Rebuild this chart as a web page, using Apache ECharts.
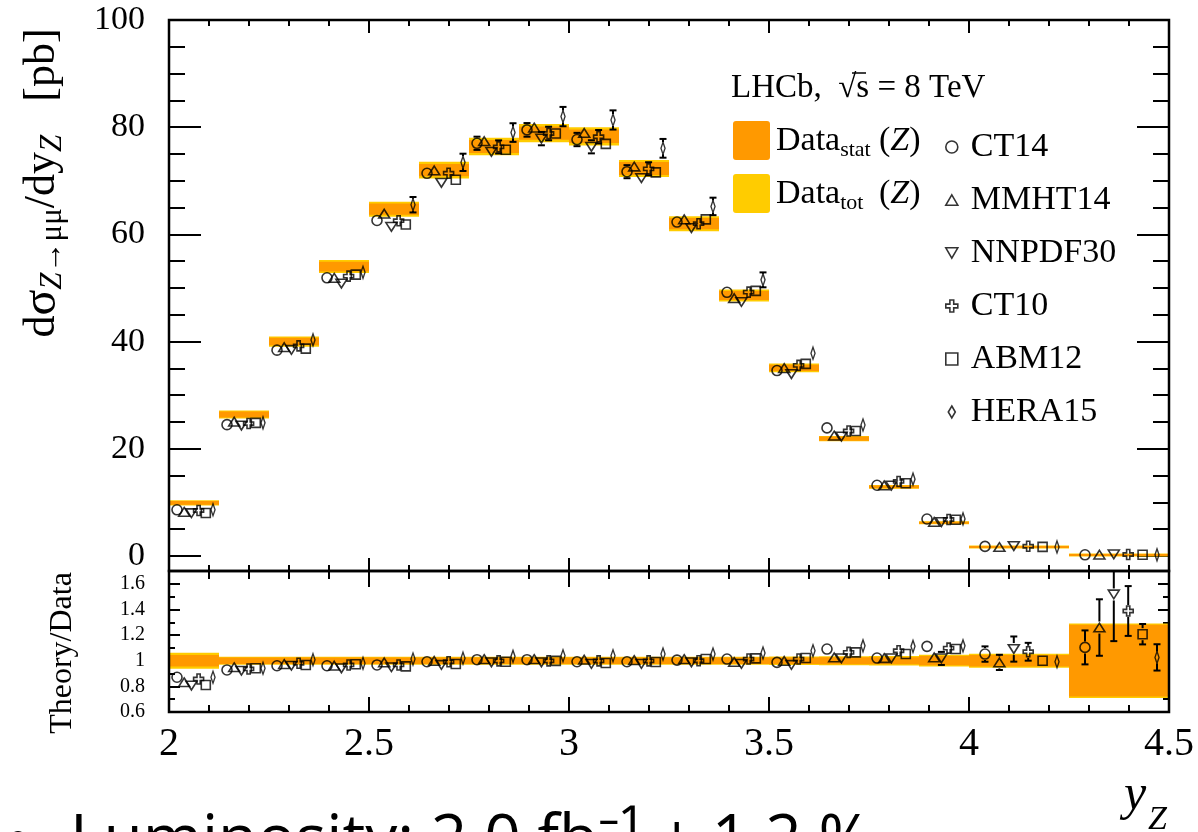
<!DOCTYPE html>
<html><head><meta charset="utf-8">
<script src="https://cdn.jsdelivr.net/npm/echarts@6/dist/echarts.min.js"></script>
<style>html,body{margin:0;padding:0;background:#fff;overflow:hidden}#c{width:1198px;height:832px}</style>
</head><body><div id="c"></div>
<script>
const FONT = "'Liberation Serif', 'Times New Roman', serif";
const SANS = "'Open Sans', 'Noto Sans', sans-serif";

// ---- data ----
const binEdges = [2.0,2.125,2.25,2.375,2.5,2.625,2.75,2.875,3.0,3.125,3.25,3.375,3.5,3.625,3.75,3.875,4.0,4.25,4.5];
const dataVal  = [9.9,26.4,40.0,54.0,64.7,72.0,76.4,78.9,78.3,72.3,62.0,48.6,35.1,21.9,12.9,6.2,1.70,0.20];
const dataStat = [0.35,0.55,0.7,0.9,1.05,1.15,1.2,1.25,1.25,1.2,1.05,0.85,0.6,0.38,0.26,0.17,0.08,0.055];
const dataTot  = [0.5,0.75,0.95,1.2,1.4,1.55,1.65,1.7,1.7,1.6,1.4,1.1,0.8,0.5,0.35,0.22,0.1,0.06];
const ratioStat = [0.045,0.025,0.025,0.025,0.025,0.025,0.025,0.025,0.025,0.025,0.025,0.025,0.025,0.027,0.028,0.036,0.045,0.28];
const ratioTot  = [0.062,0.032,0.032,0.032,0.032,0.032,0.032,0.032,0.032,0.032,0.032,0.032,0.033,0.035,0.037,0.046,0.055,0.29];

const ct14      = [8.62,24.5,38.4,51.9,62.6,71.4,77.0,79.5,77.7,71.7,62.3,49.2,34.6,23.9,13.2,6.9,1.79,0.22];
const mmht14    = [8.24,25.05,38.96,51.9,63.86,71.93,77.39,79.93,78.93,72.66,62.81,48.11,35.06,22.47,13.17,6.36,1.68,0.25];
const nnpdf30   = [7.98,24.34,38.44,50.81,61.4,69.62,75.41,77.87,76.34,70.49,61.19,47.39,33.94,22.29,13.13,6.31,1.85,0.30];
const ct10      = [8.49,24.71,39.2,52.22,62.56,71.42,76.32,78.82,78.22,72.23,62.0,49.23,35.56,23.32,13.91,6.81,1.82,0.28];
const abm12     = [8.03,24.84,38.68,52.49,61.85,70.2,75.79,78.82,76.89,71.58,62.81,49.47,35.84,23.32,13.57,6.76,1.70,0.24];
const hera15    = [8.62,24.84,40.32,52.92,65.54,73.44,79.0,81.98,81.35,76.06,65.22,51.52,37.84,24.44,14.34,6.92,1.69,0.21];

const ct14Ratio    = [0.871,0.928,0.961,0.961,0.967,0.992,1.008,1.008,0.992,0.992,1.005,1.013,0.987,1.091,1.021,1.112,1.052,1.104];
const mmht14Ratio  = [0.832,0.949,0.974,0.961,0.987,0.999,1.013,1.013,1.008,1.005,1.013,0.99,0.999,1.026,1.021,1.026,0.987,1.259];
const nnpdf30Ratio = [0.806,0.922,0.961,0.941,0.949,0.967,0.987,0.987,0.975,0.975,0.987,0.975,0.967,1.018,1.018,1.018,1.091,1.517];
const ct10Ratio    = [0.858,0.936,0.98,0.967,0.967,0.992,0.999,0.999,0.999,0.999,1.0,1.013,1.013,1.065,1.078,1.098,1.07,1.388];
const abm12Ratio   = [0.811,0.941,0.967,0.972,0.956,0.975,0.992,0.999,0.982,0.99,1.013,1.018,1.021,1.065,1.052,1.091,1.0,1.207];
const hera15Ratio  = [0.871,0.941,1.008,0.98,1.013,1.02,1.034,1.039,1.039,1.052,1.052,1.06,1.078,1.116,1.112,1.116,0.992,1.026];

const ct14RelErr    = [0.025,0.02,0.018,0.017,0.016,0.016,0.016,0.016,0.016,0.017,0.018,0.019,0.02,0.022,0.025,0.035,0.057,0.12];
const mmht14RelErr  = [0.02,0.016,0.014,0.013,0.013,0.013,0.013,0.013,0.013,0.014,0.015,0.016,0.017,0.02,0.025,0.035,0.06,0.175];
const nnpdf30RelErr = [0.025,0.02,0.018,0.017,0.016,0.016,0.016,0.016,0.016,0.017,0.019,0.021,0.024,0.028,0.035,0.05,0.09,0.24];
const ct10RelErr    = [0.025,0.02,0.018,0.017,0.016,0.016,0.016,0.016,0.016,0.017,0.018,0.019,0.021,0.024,0.03,0.045,0.065,0.14];
const abm12RelErr   = [0.012,0.01,0.01,0.01,0.01,0.01,0.01,0.01,0.01,0.01,0.011,0.012,0.013,0.015,0.018,0.022,0.02,0.066];
const hera15RelErr  = [0.03,0.025,0.022,0.022,0.022,0.022,0.022,0.022,0.022,0.023,0.025,0.027,0.03,0.033,0.035,0.045,0.05,0.1];

const xTickLabels = [2, 2.5, 3, 3.5, 4, 4.5];
const yMainTicks = [0, 20, 40, 60, 80, 100];
const yMainMinor = [5,10,15,25,30,35,45,50,55,65,70,75,85,90,95];
const ratioTicks = [0.6, 0.8, 1, 1.2, 1.4, 1.6];
const ratioMinor = [0.7, 0.9, 1.1, 1.3, 1.5];

// ---- symbols ----
const TRI_UP = 'path://M6,0L12,10.4L0,10.4Z';
const TRI_DN = 'path://M0,0L12,0L6,10.4Z';
const CROSS  = 'path://M3.4,0H6.6V3.4H10V6.6H6.6V10H3.4V6.6H0V3.4H3.4Z';
const DIAM   = 'path://M3.5,0L7,6L3.5,12L0,6Z';

const pdfs = [
  {name:'CT14',    top:ct14,    ratio:ct14Ratio,    rel:ct14RelErr,    symbol:'circle', size:10},
  {name:'MMHT14',  top:mmht14,  ratio:mmht14Ratio,  rel:mmht14RelErr,  symbol:TRI_UP,   size:[11,10]},
  {name:'NNPDF30', top:nnpdf30, ratio:nnpdf30Ratio, rel:nnpdf30RelErr, symbol:TRI_DN,   size:[11,10]},
  {name:'CT10',    top:ct10,    ratio:ct10Ratio,    rel:ct10RelErr,    symbol:CROSS,    size:10},
  {name:'ABM12',   top:abm12,   ratio:abm12Ratio,   rel:abm12RelErr,   symbol:'rect',   size:9},
  {name:'HERA15',  top:hera15,  ratio:hera15Ratio,  rel:hera15RelErr,  symbol:DIAM,     size:[7,12]}
];

const ORANGE = '#FF9900', YELLOW = '#FFCC00';

function markerX(b, i) {
  const lo = binEdges[b], hi = binEdges[b + 1];
  return lo + (hi - lo) * (0.16 + 0.144 * i);
}

function renderBox(params, api) {
  const lo = api.value(0), hi = api.value(1), v = api.value(2), st = api.value(3), tt = api.value(4);
  function rect(e, color, minH) {
    const a = api.coord([lo, v + e]), b = api.coord([hi, v - e]);
    let y0 = a[1], y1 = b[1];
    if (y1 - y0 < minH) { const m = (y0 + y1) / 2; y0 = m - minH / 2; y1 = m + minH / 2; }
    return {type:'rect', shape:{x:a[0], y:y0, width:b[0] - a[0], height:y1 - y0}, style:{fill:color}};
  }
  return {type:'group', children:[rect(tt, YELLOW, 3), rect(st, ORANGE, 2)]};
}

function renderErr(params, api) {
  const x = api.value(0), y = api.value(1), e = api.value(2);
  const p = api.coord([x, y]), t = api.coord([x, y + e]), b = api.coord([x, y - e]);
  const r = 6, cw = 3.5;
  const st = {stroke:'#000', lineWidth:2};
  const ch = [];
  if (p[1] - r > t[1] + 0.5) {
    ch.push({type:'line', shape:{x1:p[0], y1:t[1], x2:p[0], y2:p[1] - r}, style:st});
    ch.push({type:'line', shape:{x1:p[0] - cw, y1:t[1], x2:p[0] + cw, y2:t[1]}, style:st});
  }
  if (b[1] > p[1] + r + 0.5) {
    ch.push({type:'line', shape:{x1:p[0], y1:p[1] + r, x2:p[0], y2:b[1]}, style:st});
    ch.push({type:'line', shape:{x1:p[0] - cw, y1:b[1], x2:p[0] + cw, y2:b[1]}, style:st});
  }
  return {type:'group', children:ch};
}

// ---- axes ----
function xAx(grid, pos, major, minor, showLabel) {
  return {type:'value', gridIndex:grid, position:pos, min:2, max:4.5, interval:0.5,
    axisLine:{show:false, onZero:false}, splitLine:{show:false},
    axisTick:{show:true, inside:true, length:major, lineStyle:{color:'#000', width:2}},
    minorTick:{show:true, splitNumber:5, length:minor, lineStyle:{color:'#000', width:2}},
    axisLabel: showLabel ? {show:true, fontSize:40, fontFamily:FONT, color:'#000', margin:12,
      customValues: xTickLabels} : {show:false}
  };
}
function yAx(grid, pos, min, max, ticks, len, labels, labelSize, margin) {
  return {type:'value', gridIndex:grid, position:pos, min:min, max:max,
    axisLine:{show:false, onZero:false}, splitLine:{show:false},
    axisTick:{show:true, inside:true, length:len, customValues:ticks, lineStyle:{color:'#000', width:2}},
    axisLabel: labels ? {show:true, customValues:labels, fontSize:labelSize, fontFamily:FONT, color:'#000', margin:margin} : {show:false}
  };
}

const TOP_MIN = -2.8, TOP_MAX = 100, R_MIN = 0.6, R_MAX = 1.7;

const xAxis = [
  xAx(0, 'bottom', 13, 6, false),
  xAx(0, 'top', 13, 6, false),
  xAx(1, 'bottom', 15, 7, true),
  xAx(1, 'top', 16, 8, false)
];
const yAxis = [
  yAx(0, 'left', TOP_MIN, TOP_MAX, yMainTicks, 32, yMainTicks, 34, 24),
  yAx(0, 'left', TOP_MIN, TOP_MAX, yMainMinor, 16, null),
  yAx(0, 'right', TOP_MIN, TOP_MAX, yMainTicks, 32, null),
  yAx(0, 'right', TOP_MIN, TOP_MAX, yMainMinor, 16, null),
  yAx(1, 'left', R_MIN, R_MAX, ratioTicks, 11, ratioTicks, 20, 24),
  yAx(1, 'left', R_MIN, R_MAX, ratioMinor, 6, null),
  yAx(1, 'right', R_MIN, R_MAX, ratioTicks, 11, null),
  yAx(1, 'right', R_MIN, R_MAX, ratioMinor, 6, null)
];

// ---- series ----
const series = [];
series.push({type:'custom', name:'Data', xAxisIndex:0, yAxisIndex:0, renderItem:renderBox, clip:true, z:1, silent:true,
  encode:{x:[0,1], y:2},
  data: dataVal.map((v, b) => [binEdges[b], binEdges[b + 1], v, dataStat[b], dataTot[b]])});
series.push({type:'custom', name:'DataRatio', xAxisIndex:2, yAxisIndex:4, renderItem:renderBox, clip:true, z:1, silent:true,
  encode:{x:[0,1], y:2},
  data: ratioStat.map((s, b) => [binEdges[b], binEdges[b + 1], 1, s, ratioTot[b]])});

pdfs.forEach((p, i) => {
  const mk = {color:'rgba(0,0,0,0)', borderColor:'#000', borderWidth:1.6};
  series.push({type:'scatter', name:p.name, xAxisIndex:0, yAxisIndex:0, symbol:p.symbol, symbolSize:p.size,
    symbolKeepAspect:true, itemStyle:mk, z:4, silent:true, emphasis:{disabled:true},
    data: p.top.map((v, b) => [markerX(b, i), v])});
  series.push({type:'custom', name:p.name, xAxisIndex:0, yAxisIndex:0, renderItem:renderErr, clip:true, z:3, silent:true,
    data: p.top.map((v, b) => [markerX(b, i), v, v * p.rel[b]])});
  series.push({type:'scatter', name:p.name, xAxisIndex:2, yAxisIndex:4, symbol:p.symbol, symbolSize:p.size,
    symbolKeepAspect:true, itemStyle:mk, z:4, silent:true, emphasis:{disabled:true}, clip:true,
    data: p.ratio.map((v, b) => [markerX(b, i), v])});
  series.push({type:'custom', name:p.name, xAxisIndex:2, yAxisIndex:4, renderItem:renderErr, clip:true, z:3, silent:true,
    data: p.ratio.map((v, b) => [markerX(b, i), v, v * p.rel[b]])});
});

// ---- text / frame graphics ----
const richMain = {
  m:{fontSize:44, fontFamily:FONT, color:'#000', lineHeight:52},
  g:{fontSize:48, fontFamily:FONT, color:'#000', lineHeight:52},
  s:{fontSize:31, fontFamily:FONT, color:'#000', lineHeight:22, verticalAlign:'bottom'},
  si:{fontSize:31, fontFamily:FONT, fontStyle:'italic', color:'#000', lineHeight:22, verticalAlign:'bottom'}
};
const legRich = {
  m:{fontSize:34, fontFamily:FONT, color:'#000', lineHeight:40},
  s:{fontSize:22, fontFamily:FONT, color:'#000', lineHeight:16, verticalAlign:'bottom'},
  i:{fontSize:34, fontFamily:FONT, fontStyle:'italic', color:'#000', lineHeight:40}
};

const graphic = [
  {type:'rect', shape:{x:169, y:20, width:1000, height:551}, style:{fill:'none', stroke:'#000', lineWidth:2.5}, z:100, silent:true},
  {type:'rect', shape:{x:169, y:571, width:1000, height:141}, style:{fill:'none', stroke:'#000', lineWidth:2.5}, z:100, silent:true},
  // y title (top)
  {type:'text', x:42, y:183, rotation:Math.PI / 2, z:100, silent:true,
    style:{text:'{m|d}{g|σ}{si|Z}{s|→μμ}{m|/dy}{si|Z}{m|   [pb]}', rich:richMain, align:'center', verticalAlign:'middle'}},
  // y title (ratio)
  {type:'text', x:63, y:653, rotation:Math.PI / 2, z:100, silent:true,
    style:{text:'Theory/Data', fontSize:32, fontFamily:FONT, fill:'#000', align:'center', verticalAlign:'middle'}},
  // x title
  {type:'text', x:1124, y:796, z:100, silent:true,
    style:{text:'y', fontSize:50, fontFamily:FONT, fontStyle:'italic', fill:'#000', align:'left', verticalAlign:'middle'}},
  {type:'text', x:1148, y:820, z:100, silent:true,
    style:{text:'Z', fontSize:34, fontFamily:FONT, fontStyle:'italic', fill:'#000', align:'left', verticalAlign:'middle'}},
  // LHCb label
  {type:'text', x:731, y:88, z:100, silent:true,
    style:{text:'LHCb,  √s = 8 TeV', fontSize:33, fontFamily:FONT, fill:'#000', align:'left', verticalAlign:'middle'}},
  {type:'line', shape:{x1:852, y1:73, x2:866, y2:73}, style:{stroke:'#000', lineWidth:1.5}, z:100, silent:true},
  // data legend
  {type:'rect', shape:{x:733, y:121, width:37, height:39, r:3}, style:{fill:ORANGE}, z:100, silent:true},
  {type:'rect', shape:{x:733, y:174, width:37, height:39, r:3}, style:{fill:YELLOW}, z:100, silent:true},
  {type:'text', x:776, y:141, z:100, silent:true, style:{text:'{m|Data}{s|stat}', rich:legRich, align:'left', verticalAlign:'middle'}},
  {type:'text', x:776, y:194, z:100, silent:true, style:{text:'{m|Data}{s|tot}', rich:legRich, align:'left', verticalAlign:'middle'}},
  {type:'text', x:879, y:141, z:100, silent:true, style:{text:'{m|(}{i|Z}{m|)}', rich:legRich, align:'left', verticalAlign:'middle'}},
  {type:'text', x:879, y:194, z:100, silent:true, style:{text:'{m|(}{i|Z}{m|)}', rich:legRich, align:'left', verticalAlign:'middle'}},
  // cropped slide text at bottom
  {type:'text', x:6, y:812, z:100, silent:true, style:{text:'•', fontSize:64, fontFamily:SANS, fill:'#000', align:'left', verticalAlign:'top'}},
  {type:'text', x:70, y:810, z:100, silent:true, style:{text:'Luminosity: 2.0 fb⁻¹ ± 1.2 %', fontSize:64, fontFamily:SANS, fill:'#000', align:'left', verticalAlign:'top'}}
];

const option = {
  animation:false,
  backgroundColor:'#fff',
  grid:[
    {left:169, top:20, width:1000, height:551, show:false},
    {left:169, top:571, width:1000, height:141, show:false}
  ],
  legend:{
    data: pdfs.map(p => ({name:p.name, icon:p.symbol})),
    orient:'vertical', left:940, top:122, itemWidth:12, itemHeight:12, itemGap:13,
    symbolKeepAspect:true,
    itemStyle:{color:'rgba(0,0,0,0)', borderColor:'#000', borderWidth:1.6},
    textStyle:{fontFamily:FONT, fontSize:34, color:'#000', lineHeight:40, padding:[0,0,0,8]},
    selectedMode:false
  },
  xAxis: xAxis,
  yAxis: yAxis,
  series: series,
  graphic: graphic
};

const chart = echarts.init(document.getElementById('c'), null, {renderer:'canvas'});
chart.setOption(option);
</script>
</body></html>
